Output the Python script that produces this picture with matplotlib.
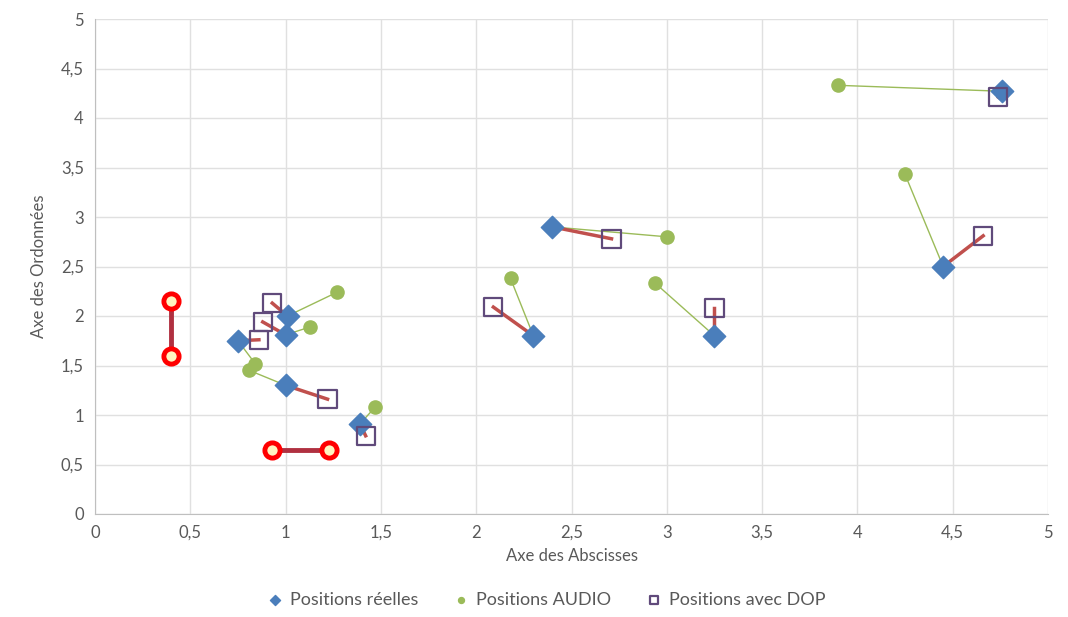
import matplotlib
matplotlib.use("Agg")
import matplotlib.pyplot as plt
from matplotlib.ticker import MultipleLocator, FuncFormatter

plt.rcParams["font.family"] = ["Lato", "DejaVu Sans"]

# real positions
real_x = [4.76, 4.45, 2.40, 3.25, 2.30, 1.01, 1.00, 0.75, 1.00, 1.39]
real_y = [4.27, 2.50, 2.90, 1.80, 1.80, 2.00, 1.81, 1.75, 1.30, 0.91]
# AUDIO estimates
audio_x = [3.90, 4.25, 3.00, 2.94, 2.18, 1.27, 1.13, 0.84, 0.81, 1.47]
audio_y = [4.33, 3.43, 2.80, 2.33, 2.38, 2.24, 1.89, 1.52, 1.45, 1.08]
# DOP corrected
dop_x = [4.74, 4.66, 2.71, 3.25, 2.09, 0.93, 0.88, 0.86, 1.22, 1.42]
dop_y = [4.21, 2.81, 2.78, 2.08, 2.09, 2.13, 1.94, 1.76, 1.16, 0.79]
# red error bars
err_x = [[0.40, 0.40], [0.93, 1.23]]
err_y = [[2.15, 1.60], [0.65, 0.65]]

blue = "#4A7EBB"
green = "#9BBB59"
purple = "#604A7B"
red = "#C0504D"
grey = "#595959"

fig = plt.figure(figsize=(10.68, 6.17), dpi=100)
ax = fig.add_axes([95 / 1068, 1 - 514 / 617, (1048 - 95) / 1068, (514 - 19) / 617])

for i in range(len(real_x)):
    ax.plot([real_x[i], audio_x[i]], [real_y[i], audio_y[i]],
            color=green, lw=1.0, zorder=2)
    ax.plot([real_x[i], dop_x[i]], [real_y[i], dop_y[i]],
            color=red, lw=2.5, zorder=3)

ax.scatter(audio_x, audio_y, s=90, color=green, zorder=4, label="Positions AUDIO")
ax.scatter(real_x, real_y, s=130, marker="D", color=blue, zorder=5,
           label="Positions réelles")
ax.scatter(dop_x, dop_y, s=170, marker="s", facecolor="none",
           edgecolor=purple, linewidth=1.6, zorder=6, label="Positions avec DOP")

for xs, ys in zip(err_x, err_y):
    ax.plot(xs, ys, color="#B03040", lw=3.5, zorder=6)
    ax.scatter(xs, ys, s=120, facecolor="#FFF4C0", edgecolor="#FF0000",
               linewidth=3.5, zorder=7)

ax.set_xlim(0, 5)
ax.set_ylim(0, 5)
ax.xaxis.set_major_locator(MultipleLocator(0.5))
ax.yaxis.set_major_locator(MultipleLocator(0.5))
fmt = FuncFormatter(lambda v, p: f"{v:g}".replace(".", ","))
ax.xaxis.set_major_formatter(fmt)
ax.yaxis.set_major_formatter(fmt)
ax.grid(True, color="#E0E0E0", lw=1.0)
ax.set_axisbelow(True)
for s in ["top", "right"]:
    ax.spines[s].set_visible(False)
for s in ["left", "bottom"]:
    ax.spines[s].set_color("#BFBFBF")
ax.tick_params(length=0, colors=grey, labelsize=12, pad=8)

ax.set_xlabel("Axe des Abscisses", color=grey, fontsize=12, labelpad=5)
ax.set_ylabel("Axe des Ordonnées", color=grey, fontsize=12, labelpad=10)

handles, labels = ax.get_legend_handles_labels()
order = [1, 0, 2]
leg = fig.legend([handles[i] for i in order], [labels[i] for i in order],
                 loc="center", bbox_to_anchor=(0.51, 1 - 600 / 617), ncol=3,
                 frameon=False, fontsize=13, handletextpad=0.2, columnspacing=1.8,
                 handlelength=1.2, markerscale=0.45)
for t in leg.get_texts():
    t.set_color(grey)

fig.savefig("out.png", dpi=100)
